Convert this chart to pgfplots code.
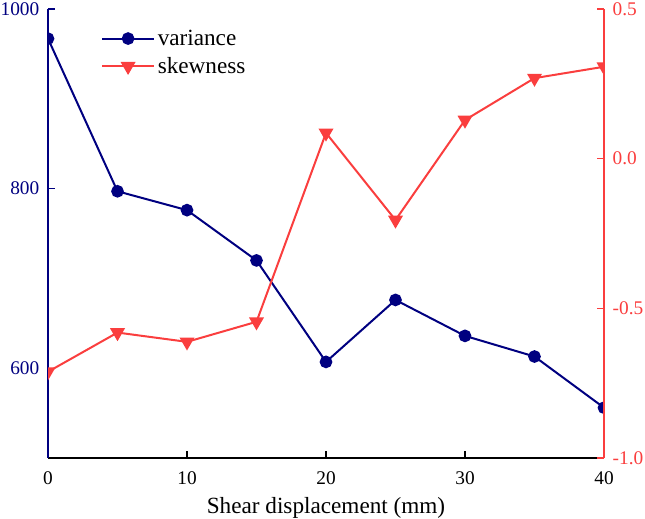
\documentclass[border=0pt]{standalone}
\usepackage{pgfplots}
\pgfplotsset{compat=1.18}
\usepackage{fontspec}
\setmainfont{Liberation Serif}
\definecolor{navy}{RGB}{0,0,128}
\definecolor{myred}{RGB}{250,62,62}
\begin{document}
\begin{tikzpicture}
\begin{axis}[
  name=ax,
  scale only axis, width=417pt, height=336.75pt,
  xmin=0, xmax=40, ymin=500, ymax=1000,
  axis x line*=bottom, axis y line*=left,
  clip marker paths=true,
  xtick={0,10,20,30,40}, ytick={600,800,1000},
  tick align=inside, major tick length=5pt,
  x axis line style={black, line width=1pt, -},
  y axis line style={navy, line width=1pt, -},
  xtick style={black, line width=1pt},
  ytick style={navy, line width=1pt},
  yticklabel style={navy, font=\fontsize{14.5}{16}\selectfont, xshift=-3pt},
  xticklabel style={black, font=\fontsize{14.5}{16}\selectfont, yshift=-7pt},
  /pgf/number format/assume math mode=true,
  /pgf/number format/1000 sep={},
  xlabel={Shear displacement (mm)},
  xlabel style={font=\fontsize{17.4}{20}\selectfont, yshift=-2pt},
  legend style={draw=none, fill=none, at={(0.095,0.96)}, anchor=north west,
    font=\fontsize{17.4}{20}\selectfont, row sep=3.5pt, inner sep=0pt},
  legend cell align=left,
  legend image code/.code={\draw[#1] (0pt,0pt) -- (39pt,0pt); \path[#1, only marks] plot coordinates {(19.5pt,0pt)};},
]
\addplot[navy, line width=1.5pt, mark=*, mark size=4pt] coordinates {
(0,967) (5,797) (10,776) (15,720) (20,607) (25,676) (30,636) (35,613) (40,556)};
\addlegendentry{variance}
\addlegendimage{myred, line width=1.5pt, mark=triangle*, mark size=5pt, mark options={rotate=180}}
\addlegendentry{skewness}
\end{axis}
\begin{axis}[
  scale only axis, width=417pt, height=336.75pt,
  xmin=0, xmax=40, ymin=-1, ymax=0.5,
  axis x line=none, axis y line*=right,
  clip marker paths=true,
  ytick={-1,-0.5,0,0.5},
  tick align=inside, major tick length=5pt,
  y axis line style={myred, line width=1pt, -},
  ytick style={myred, line width=1pt},
  yticklabel style={myred, font=\fontsize{14.5}{16}\selectfont, xshift=3pt},
  /pgf/number format/assume math mode=true,
  yticklabel={\pgfmathprintnumber[fixed, fixed zerofill, precision=1]{\tick}},
]
\addplot[myred, line width=1.5pt, mark=triangle*, mark size=5pt, mark options={rotate=180}] coordinates {
(0,-0.712) (5,-0.581) (10,-0.612) (15,-0.545) (20,0.086) (25,-0.205) (30,0.129) (35,0.269) (40,0.307)};
\end{axis}
\pgfresetboundingbox
\path[use as bounding box] ([xshift=-36pt,yshift=-45.75pt]ax.south west) rectangle ([xshift=30.75pt,yshift=6.75pt]ax.north east);
\end{tikzpicture}
\end{document}
